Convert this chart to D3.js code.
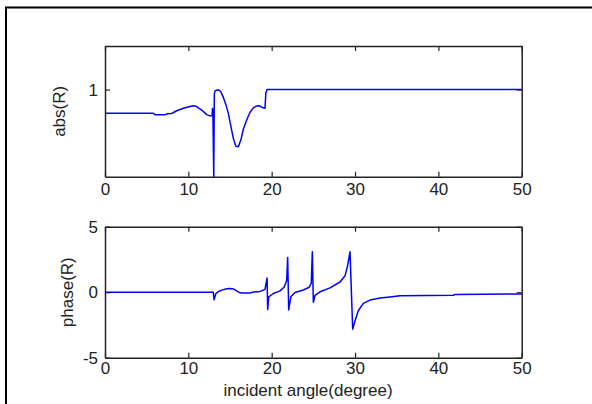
<!DOCTYPE html>
<html>
<head>
<meta charset="utf-8">
<script src="https://cdn.jsdelivr.net/npm/d3@7"></script>
<style>
  body { margin: 0; background: #fff; }
  text { font-family: "Liberation Sans", Arial, sans-serif; fill: #222; }
  .domain, .tick line { stroke: #222; }
</style>
</head>
<body>
<script>
// values
var xTicks = [0, 10, 20, 30, 40, 50];
var absTicks = [1];
var phaseTicks = [-5, 0, 5];

var absAngle = [0, 5.8, 6.0, 7.2, 7.5, 8.0, 8.6, 9.4, 10.2, 10.6, 11.0, 11.6, 12.2, 12.6, 12.85,
  12.9, 12.95, 13.05, 13.12, 13.2, 13.3, 13.6, 13.9, 14.2, 14.5, 14.8, 15.1, 15.4, 15.7, 16.0,
  16.3, 16.6, 17.0, 17.4, 17.8, 18.2, 18.5, 18.8, 19.2, 19.3, 19.45, 50];
var absValue = [0.727, 0.727, 0.712, 0.712, 0.722, 0.725, 0.757, 0.785, 0.805, 0.815, 0.805, 0.765, 0.712, 0.698, 0.70,
  0.785, 0.72, 0.0, 0.95, 0.985, 0.99, 0.998, 0.975, 0.91, 0.83, 0.727, 0.58, 0.44, 0.35, 0.345,
  0.42, 0.545, 0.65, 0.74, 0.79, 0.812, 0.815, 0.798, 0.785, 0.96, 1.0, 1.0];

var phaseAngle = [0, 13.0, 13.08, 13.3, 13.6, 14.0, 14.6, 15.0, 15.4, 15.8, 16.2, 16.6, 17.4, 17.8, 18.6, 19.2,
  19.45, 19.52, 19.65, 20.2, 21.0, 21.5, 21.8, 21.92, 22.04, 22.3, 22.8, 23.8, 24.5, 24.75, 24.88,
  25.0, 25.2, 25.8, 27.0, 28.2, 28.8, 29.1, 29.4, 29.72, 30.0, 30.4, 31.0, 31.8, 33.0, 34.2, 35.4,
  41.8, 42.0, 50];
var phaseValue = [0, 0, -0.58, -0.12, 0.05, 0.16, 0.26, 0.29, 0.25, 0.1, -0.05, -0.07, -0.07, 0.02, 0.06, 0.22,
  1.08, -1.33, -0.35, -0.1, 0.1, 0.4, 0.9, 2.64, -1.35, -0.35, -0.02, 0.17, 0.38, 0.7, 3.08,
  -0.77, -0.25, 0.03, 0.33, 0.78, 1.25, 2.0, 3.08, -2.82, -2.2, -1.4, -0.85, -0.6, -0.45, -0.36, -0.27,
  -0.23, -0.17, -0.14];

var width = 592, height = 404;
var svg = d3.select("body").append("svg")
    .attr("width", width)
    .attr("height", height);

// figure frame (only left and top edges fall inside the picture)
svg.append("rect")
    .attr("x", 6).attr("y", 7.5)
    .attr("width", 800).attr("height", 600)
    .attr("fill", "none")
    .attr("stroke", "#000")
    .attr("stroke-width", 2);

var x = d3.scaleLinear().domain([0, 50]).range([105, 521.7]);
var plain = function(d) { return String(d); };

function panel(top, bottom, yDomain, yTicks, angles, values, label, labelX, xPad) {
  var y = d3.scaleLinear().domain(yDomain).range([bottom, top]);
  var g = svg.append("g");

  // inward ticks on all four sides, labels on left and bottom
  g.append("g")
      .attr("transform", "translate(0," + bottom + ")")
      .call(d3.axisBottom(x).tickValues(xTicks).tickSizeInner(-5).tickSizeOuter(0).tickPadding(xPad).tickFormat(plain));
  g.append("g")
      .attr("transform", "translate(0," + top + ")")
      .call(d3.axisTop(x).tickValues(xTicks).tickSizeInner(-5).tickSizeOuter(0).tickFormat(""));
  g.append("g")
      .attr("transform", "translate(105,0)")
      .call(d3.axisLeft(y).tickValues(yTicks).tickSizeInner(-5).tickSizeOuter(0).tickPadding(7).tickFormat(plain));
  g.append("g")
      .attr("transform", "translate(521.7,0)")
      .call(d3.axisRight(y).tickValues(yTicks).tickSizeInner(-5).tickSizeOuter(0).tickFormat(""));

  g.selectAll(".domain").attr("stroke-width", 1.5);
  g.selectAll(".tick line").attr("stroke-width", 1.2);
  g.selectAll(".tick text").attr("font-size", 17).attr("fill", "#222");

  var line = d3.line()
      .x(function(d) { return x(d[0]); })
      .y(function(d) { return y(d[1]); });

  g.append("path")
      .datum(d3.zip(angles, values))
      .attr("fill", "none")
      .attr("stroke", "#0000ff")
      .attr("stroke-width", 1.5)
      .attr("stroke-linejoin", "round")
      .attr("d", line);

  g.append("text")
      .attr("transform", "translate(" + labelX + "," + ((top + bottom) / 2) + ") rotate(-90)")
      .attr("text-anchor", "middle")
      .attr("dominant-baseline", "central")
      .attr("font-size", 17)
      .text(label);
}

panel(46, 176.7, [0, 1.5], absTicks, absAngle, absValue, "abs(R)", 59, 6);
panel(226.7, 357.7, [-5, 5], phaseTicks, phaseAngle, phaseValue, "phase(R)", 67, 4);

svg.append("text")
    .attr("x", 308)
    .attr("y", 390)
    .attr("text-anchor", "middle")
    .attr("dominant-baseline", "central")
    .attr("font-size", 17)
    .text("incident angle(degree)");
</script>
</body>
</html>
